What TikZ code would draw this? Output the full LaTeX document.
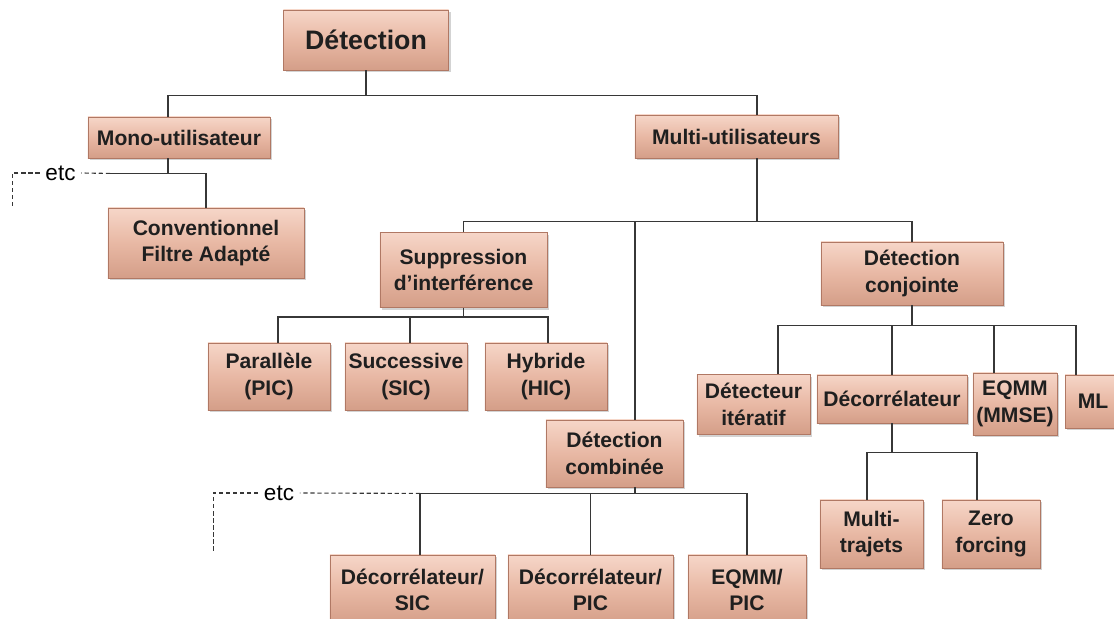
\documentclass[tikz,border=0pt]{standalone}
\usepackage{fontspec}
\setmainfont{Liberation Sans}
\usetikzlibrary{calc,shadows}

\definecolor{boxfill}{RGB}{232,184,164}
\definecolor{boxtop}{RGB}{246,214,200}
\definecolor{boxbot}{RGB}{212,158,136}
\definecolor{boxedge}{RGB}{176,120,100}
\definecolor{linkgray}{RGB}{55,55,55}

\tikzset{
  box/.style={draw=boxedge, line width=0.6pt, top color=boxtop, bottom color=boxbot, middle color=boxfill,
    drop shadow={shadow xshift=1.5pt, shadow yshift=-1.5pt, opacity=0.35},
    align=center, inner sep=1pt, text=black!88, font=\fontsize{15}{19}\selectfont\bfseries},
  link/.style={draw=linkgray, line width=0.9pt},
  etcline/.style={draw=linkgray, line width=0.8pt, dash pattern=on 3pt off 2pt},
  etctext/.style={font=\fontsize{16}{18}\selectfont, inner sep=4pt}
}

\begin{document}
\begin{tikzpicture}[x=0.025cm, y=-0.025cm]
    \useasboundingbox (0,0) rectangle (1114,619);

    % Top levels
    \node[box, font=\fontsize{19}{22}\selectfont\bfseries, minimum width=4.125cm, minimum height=1.5cm] (det) at (366,40) {Détection};
    \node[box, minimum width=4.55cm, minimum height=1.025cm] (mono) at (179,137.5) {Mono-utilisateur};
    \node[box, minimum width=5.075cm, minimum height=1.075cm] (multi) at (736.5,136.5) {Multi-utilisateurs};
    \node[box, minimum width=4.9cm, minimum height=1.75cm] (conv) at (206,243) {Conventionnel\\Filtre Adapté};

    % Multi-user families
    \node[box, minimum width=4.175cm, minimum height=1.875cm] (supp) at (463.5,270) {Suppression\\d’interférence};
    \node[box, minimum width=4.55cm, minimum height=1.575cm] (conj) at (912,273.5) {Détection\\conjointe};
    \node[box, minimum width=3.425cm, minimum height=1.675cm] (comb) at (614.5,453.5) {Détection\\combinée};

    % Interference suppression
    \node[box, minimum width=3.05cm, minimum height=1.675cm] (par) at (269,376.5) {Parallèle\\(PIC)};
    \node[box, minimum width=3.05cm, minimum height=1.675cm] (succ) at (406,376.5) {Successive\\(SIC)};
    \node[box, minimum width=3.05cm, minimum height=1.675cm] (hyb) at (546,376.5) {Hybride\\(HIC)};

    % Joint detection
    \node[box, minimum width=2.825cm, minimum height=1.5cm] (iter) at (753.5,404.5) {Détecteur\\itératif};
    \node[box, minimum width=3.75cm, minimum height=1.2cm] (decor) at (892,399) {Décorrélateur};
    \node[box, minimum width=2.1cm, minimum height=1.55cm] (eqmm) at (1015,404) {EQMM\\(MMSE)};
    \node[box, minimum width=1.4cm, minimum height=1.325cm] (ml) at (1093,401.5) {ML};
    \node[box, minimum width=2.575cm, minimum height=1.7cm] (mtraj) at (871.5,534) {Multi-\\trajets};
    \node[box, minimum width=2.45cm, minimum height=1.7cm] (zero) at (991,534) {Zero\\forcing};

    % Combined detection
    \node[box, minimum width=4.125cm, minimum height=1.75cm] (dsic) at (412.5,590) {Décorrélateur/\\SIC};
    \node[box, minimum width=4.125cm, minimum height=1.75cm] (dpic) at (590.5,590) {Décorrélateur/\\PIC};
    \node[box, minimum width=2.95cm, minimum height=1.75cm] (epic) at (747,590) {EQMM/\\PIC};

    % Detection -> mono / multi
    \draw[link] (det.south) -- ++(0,25) coordinate (b0);
    \draw[link] ($(mono.north)+(-11,0)$) |- (b0) -| ($(multi.north)+(20.5,0)$);

    % Mono-utilisateur
    \draw[link] ($(mono.south)+(-11,0)$) -- ++(0,15) coordinate (b1);
    \coordinate (e1) at ($(b1)+(-58,0)$);
    \draw[link] (e1) -| (conv.north);
    \node[etctext] (etc1) at (60.5,173) {etc};
    \draw[etcline] (e1) -- (etc1.east);
    \draw[etcline] (etc1.west) -- ++(-27,0) -- ++(0,34);

    % Multi-utilisateurs
    \draw[link] ($(multi.south)+(20.5,0)$) -- ++(0,63) coordinate (b2);
    \draw[link] (supp.north) |- (b2) -| (conj.north);
    \coordinate (c1) at ($(comb.north)+(20.5,0)$);
    \draw[link] (c1) -- (c1 |- b2);

    % Suppression d'interference
    \draw[link] (supp.south) -- ++(0,9) coordinate (b3);
    \draw[link] ($(par.north)+(9,0)$) |- (b3) -| ($(hyb.north)+(2,0)$);
    \coordinate (c4) at ($(succ.north)+(4,0)$);
    \draw[link] (c4) -- (c4 |- b3);

    % Detection conjointe
    \draw[link] (conj.south) -- ++(0,20) coordinate (b4);
    \draw[link] ($(iter.north)+(24.5,0)$) |- (b4) -| ($(ml.north)+(-17,0)$);
    \draw[link] (decor.north) -- (decor.north |- b4);
    \coordinate (c2) at ($(eqmm.north)+(-21,0)$);
    \draw[link] (c2) -- (c2 |- b4);

    % Decorrelateur
    \draw[link] (decor.south) -- ++(0,29) coordinate (b5);
    \draw[link] ($(mtraj.north)+(-4.5,0)$) |- (b5) -| ($(zero.north)+(-14,0)$);

    % Detection combinee
    \draw[link] ($(comb.south)+(20.5,0)$) -- ++(0,6) coordinate (b6);
    \coordinate (c3) at ($(dsic.north)+(7.5,0)$);
    \draw[link] (c3) |- (b6) -| (epic.north);
    \draw[link] (dpic.north) -- (dpic.north |- b6);
    \node[etctext] (etc2) at (279,493) {etc};
    \draw[etcline] (c3 |- b6) -- (etc2.east);
    \draw[etcline] (etc2.west) -- ++(-45,0) -- ++(0,60);
\end{tikzpicture}
\end{document}
